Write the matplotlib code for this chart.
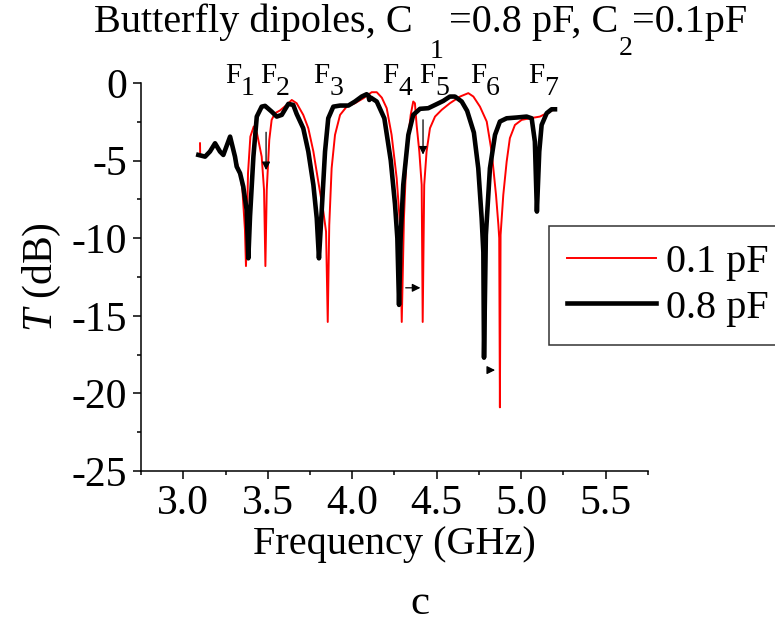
import matplotlib
matplotlib.use('Agg')
import matplotlib.pyplot as plt

plt.rcParams['font.family'] = ['Liberation Serif', 'DejaVu Serif']
plt.rcParams['mathtext.fontset'] = 'custom'
plt.rcParams['mathtext.rm'] = 'Liberation Serif'
plt.rcParams['mathtext.it'] = 'Liberation Serif:italic'

# 0.8 pF (black, thick)
f_08 = [3.089, 3.129, 3.158, 3.188, 3.217, 3.237, 3.277, 3.306, 3.316, 3.336,
        3.355, 3.375, 3.385, 3.395, 3.415, 3.435, 3.464, 3.484, 3.523, 3.553,
        3.583, 3.622, 3.651, 3.671, 3.71, 3.74, 3.77, 3.79, 3.803, 3.819,
        3.839, 3.858, 3.888, 3.928, 3.977, 4.016, 4.056, 4.085, 4.095, 4.101,
        4.11, 4.145, 4.19, 4.228, 4.253, 4.267, 4.277, 4.287, 4.302, 4.332,
        4.361, 4.401, 4.45, 4.49, 4.539, 4.578, 4.608, 4.648, 4.68, 4.72,
        4.746, 4.766, 4.776, 4.780, 4.791, 4.815, 4.845, 4.874, 4.914, 4.973,
        5.032, 5.062, 5.081, 5.093, 5.107, 5.121, 5.151, 5.18, 5.2]
T_08 = [-4.64, -4.75, -4.42, -3.89, -4.42, -4.64, -3.46, -4.75, -5.39, -5.82,
        -6.68, -8.18, -11.3, -8.6, -4.75, -2.17, -1.53, -1.48, -1.85, -2.17,
        -2.06, -1.35, -1.42, -2.0, -2.92, -4.42, -6.57, -8.72, -11.3, -8.29,
        -4.42, -2.28, -1.53, -1.46, -1.46, -1.2, -0.88, -0.73, -0.8, -1.1,
        -0.95, -1.2, -2.28, -5.0, -7.8, -10.0, -14.3, -9.8, -6.57, -3.35,
        -2.06, -1.67, -1.63, -1.42, -1.16, -0.88, -0.88, -1.2, -1.8, -3.2,
        -5.5, -8.72, -10.9, -17.7, -9.8, -5.5, -3.35, -2.49, -2.28, -2.23,
        -2.17, -2.28, -3.78, -8.29, -4.42, -2.71, -1.95, -1.7, -1.7]

# 0.1 pF (red, thin)
f_01 = [3.099, 3.100, 3.129, 3.158, 3.188, 3.217, 3.237, 3.277, 3.306, 3.336,
        3.35, 3.365, 3.371, 3.377, 3.383, 3.397, 3.417, 3.436, 3.464, 3.478,
        3.486, 3.494, 3.509, 3.523, 3.543, 3.572, 3.612, 3.642, 3.671, 3.71,
        3.74, 3.77, 3.799, 3.829, 3.845, 3.855, 3.864, 3.878, 3.898, 3.928,
        3.967, 4.016, 4.066, 4.115, 4.145, 4.175, 4.204, 4.233, 4.263, 4.283,
        4.293, 4.306, 4.322, 4.346, 4.361, 4.371, 4.381, 4.397, 4.411, 4.417,
        4.426, 4.44, 4.46, 4.49, 4.529, 4.578, 4.638, 4.687, 4.717, 4.756,
        4.796, 4.825, 4.851, 4.865, 4.87, 4.874, 4.878, 4.894, 4.914, 4.933,
        4.963, 5.003, 5.052, 5.111, 5.151, 5.19]
T_01 = [-3.89, -4.64, -4.75, -4.42, -3.89, -4.42, -4.64, -3.56, -4.75, -5.82,
        -6.9, -9.47, -11.8, -9.47, -5.82, -3.46, -2.81, -3.24, -4.75, -6.9,
        -11.8, -6.9, -3.67, -2.38, -1.95, -1.78, -1.42, -1.1, -1.31, -2.06,
        -2.92, -4.42, -6.36, -8.29, -9.58, -15.4, -9.15, -5.5, -3.35, -2.06,
        -1.53, -1.31, -0.99, -0.6, -0.6, -0.95, -1.63, -3.35, -6.14, -9.15,
        -15.4, -8.72, -4.42, -2.06, -1.2, -1.31, -2.71, -4.42, -6.57, -15.4,
        -6.57, -4.42, -2.92, -2.17, -1.74, -1.31, -0.88, -0.66, -0.88, -1.53,
        -2.49, -4.42, -7.22, -9.15, -10.0, -20.9, -9.8, -7.22, -5.07, -3.56,
        -2.71, -2.38, -2.28, -2.17, -1.95, -1.74]

# resonance labels F1..F7 (x position of "F")
f_labels = ['1', '2', '3', '4', '5', '6', '7']
f_label_x = [3.247, 3.454, 3.768, 4.176, 4.395, 4.697, 5.04]

W, H = 775, 628
fig = plt.figure(figsize=(7.75, 6.28), dpi=100)
ax = fig.add_axes([0.182, 0.25, 0.654, 0.618])

ax.plot(f_01, T_01, color='red', lw=1.4, label='0.1 pF')
ax.plot(f_08, T_08, color='black', lw=3.3, label='0.8 pF')

ax.set_xlim(2.75, 5.75)
ax.set_ylim(-25, 0)
ax.set_xticks([3.0, 3.5, 4.0, 4.5, 5.0, 5.5])
ax.set_xticks([2.75, 3.25, 3.75, 4.25, 4.75, 5.25, 5.75], minor=True)
ax.set_yticks([0, -5, -10, -15, -20, -25])
ax.set_yticks([-2.5, -7.5, -12.5, -17.5, -22.5], minor=True)
ax.set_yticklabels(['0', '-5', '-10', '-15', '-20', '-25'])
ax.spines['top'].set_visible(False)
ax.spines['right'].set_visible(False)
for s in ['left', 'bottom']:
    ax.spines[s].set_linewidth(1.1)
ax.tick_params(which='major', direction='out', length=6, width=1.1, labelsize=30, pad=4)
ax.tick_params(which='minor', direction='out', length=3, width=1.1)

ax.set_xlabel('Frequency (GHz)', fontsize=29, labelpad=2)
ax.set_ylabel(r'$T$ (dB)', fontsize=30, labelpad=6)

# F labels
for lab, x in zip(f_labels, f_label_x):
    ax.text(x, 0.0, 'F', fontsize=21, va='baseline', ha='left', clip_on=False)
    ax.text(x + 0.095, -0.77, lab, fontsize=20, va='baseline', ha='left', clip_on=False)

# arrows
arr = dict(arrowstyle='-|>', color='black', lw=0.9, mutation_scale=12)
ax.annotate('', xy=(3.49, -5.8), xytext=(3.49, -3.0), arrowprops=arr)
ax.annotate('', xy=(4.419, -4.8), xytext=(4.419, -2.2), arrowprops=arr)
ax.annotate('', xy=(4.42, -13.2), xytext=(4.30, -13.2), arrowprops=arr)
ax.annotate('', xy=(4.862, -18.5), xytext=(4.80, -18.5), arrowprops=arr)

# title, built piece by piece (subscripts lowered, as in the original)
# (text, fontsize, baseline y px, gap before in px)
pieces = [('Butterfly dipoles, C', 29, 32, 0),
          ('1', 20, 58, 16),
          ('=0.8 pF, C', 29, 32, 6),
          ('2', 20, 55, 0),
          ('=0.1pF', 29, 32, 0)]
renderer = fig.canvas.get_renderer()
texts, x = [], 0
for txt, size, yb, gap in pieces:
    x += gap
    t = fig.text(x / W, 1 - yb / H, txt, fontsize=size, va='baseline', ha='left')
    x += t.get_window_extent(renderer).width
    texts.append(t)
shift = 421 - x / 2
for t in texts:
    px, py = t.get_position()
    t.set_x(px + shift / W)

fig.text(420 / W, 1 - 614 / H, 'c', fontsize=31, ha='center', va='baseline')

leg = ax.legend(loc='upper left', bbox_to_anchor=(549 / W, 1 - 226 / H),
                bbox_transform=fig.transFigure, borderaxespad=0, fontsize=29,
                frameon=True, fancybox=False, handlelength=2.2, handletextpad=0.25,
                labelspacing=0.2, borderpad=0.45)
leg.get_frame().set_edgecolor('black')
leg.get_frame().set_linewidth(1.1)

plt.savefig('out.png', dpi=100)
plt.close()
